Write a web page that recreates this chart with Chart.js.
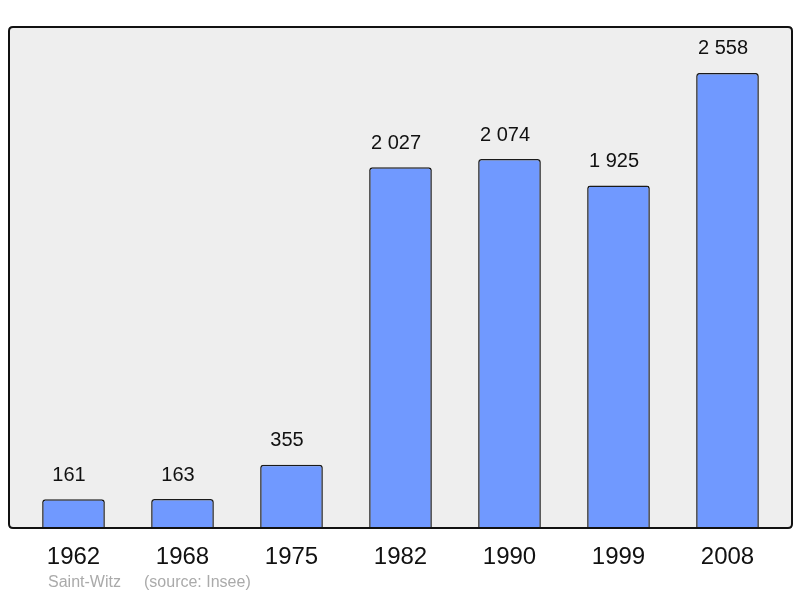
<!DOCTYPE html>
<html>
<head>
<meta charset="utf-8">
<script src="https://cdn.jsdelivr.net/npm/chart.js@4"></script>
<style>
  html, body { margin: 0; padding: 0; background: #fff; }
  #wrap { width: 800px; height: 598px; position: relative; }
</style>
</head>
<body>
<div id="wrap"><canvas id="chart" width="800" height="598"></canvas></div>
<script>
const years = ['1962', '1968', '1975', '1982', '1990', '1999', '2008'];
const population = [161, 163, 355, 2027, 2074, 1925, 2558];
const commune = 'Saint-Witz';
const source = '(source: Insee)';

const FONT = '"Liberation Sans", Arial, sans-serif';

// 2558 -> "2 558"
function fmt(n) {
  return String(n).replace(/\B(?=(\d{3})+(?!\d))/g, ' ');
}

function roundRect(ctx, x, y, w, h, r) {
  ctx.beginPath();
  ctx.moveTo(x + r, y);
  ctx.lineTo(x + w - r, y);
  ctx.quadraticCurveTo(x + w, y, x + w, y + r);
  ctx.lineTo(x + w, y + h - r);
  ctx.quadraticCurveTo(x + w, y + h, x + w - r, y + h);
  ctx.lineTo(x + r, y + h);
  ctx.quadraticCurveTo(x, y + h, x, y + h - r);
  ctx.lineTo(x, y + r);
  ctx.quadraticCurveTo(x, y, x + r, y);
  ctx.closePath();
}

const frame = { left: 9, top: 27, right: 792, bottom: 528 };

const framePlugin = {
  id: 'frame',
  beforeDraw(chart) {
    const ctx = chart.ctx;
    ctx.save();
    roundRect(ctx, frame.left, frame.top, frame.right - frame.left, frame.bottom - frame.top, 4);
    ctx.fillStyle = '#eeeeee';
    ctx.fill();
    ctx.restore();
  },
  afterDatasetsDraw(chart) {
    const ctx = chart.ctx;
    ctx.save();
    roundRect(ctx, frame.left, frame.top, frame.right - frame.left, frame.bottom - frame.top, 4);
    ctx.lineWidth = 2;
    ctx.strokeStyle = '#111';
    ctx.stroke();

    // value labels above bars
    const meta = chart.getDatasetMeta(0);
    ctx.fillStyle = '#111';
    ctx.font = '20px ' + FONT;
    ctx.textAlign = 'center';
    ctx.textBaseline = 'middle';
    meta.data.forEach((bar, i) => {
      ctx.fillText(fmt(population[i]), bar.x - 4.5, bar.y - 24);
    });

    // year labels
    const xs = chart.scales.x;
    ctx.font = '24px ' + FONT;
    years.forEach((y, i) => {
      ctx.fillText(y, xs.getPixelForValue(i), 557);
    });

    // source line
    ctx.fillStyle = '#aaaaaa';
    ctx.font = '16px ' + FONT;
    ctx.textAlign = 'left';
    ctx.fillText(commune, 48, 583);
    ctx.fillText(source, 144, 583);
    ctx.restore();
  }
};

new Chart(document.getElementById('chart'), {
  type: 'bar',
  data: {
    labels: years,
    datasets: [{
      data: population,
      backgroundColor: '#7099ff',
      borderColor: '#1a1a1a',
      borderWidth: 1.5,
      borderRadius: 3,
      borderSkipped: 'bottom',
      barPercentage: 0.575,
      categoryPercentage: 1
    }]
  },
  options: {
    responsive: false,
    animation: false,
    layout: { padding: { left: 19, right: 18, top: 27, bottom: 70 } },
    scales: {
      x: { display: false },
      y: { display: false, min: 0, max: 2816 }
    },
    plugins: { legend: { display: false }, tooltip: { enabled: false } }
  },
  plugins: [framePlugin]
});
</script>
</body>
</html>
